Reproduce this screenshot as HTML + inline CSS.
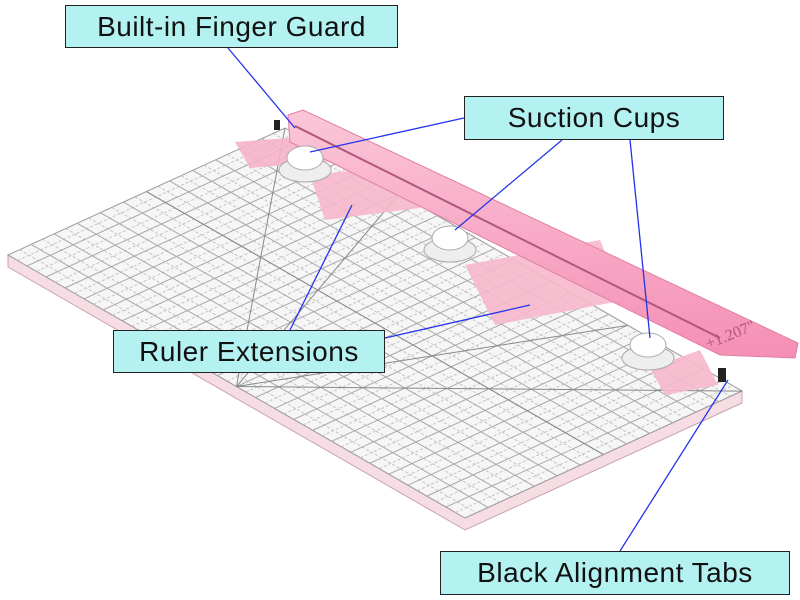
<!DOCTYPE html>
<html><head><meta charset="utf-8"><style>
html,body{margin:0;padding:0;background:#fff;width:800px;height:600px;overflow:hidden}
.lbl{position:absolute;background:#b4f2f2;border:1.5px solid #222;font-family:"Liberation Sans",sans-serif;font-size:28px;color:#111;box-sizing:border-box;display:flex;align-items:center;justify-content:center;letter-spacing:0.5px}
</style></head><body>
<svg width="800" height="600" style="position:absolute;left:0;top:0">
<defs>
<linearGradient id="pk" x1="0" y1="0" x2="0" y2="1"><stop offset="0" stop-color="#fbc6d8"/><stop offset="1" stop-color="#f58fb5"/></linearGradient>
</defs>
<polygon points="8,255 465,518 742,391 742,403 465,530 8,267" fill="#f6dde4" stroke="#c9a3ad" stroke-width="1"/>
<polygon points="8,255 465,518 742,391 285,128" fill="#f6f6f6" stroke="#999" stroke-width="1"/>
<g transform="matrix(19.04,10.96,23.08,-10.58,8,255)" fill="none">
<path vector-effect="non-scaling-stroke" stroke="#c4c4c4" stroke-dasharray="3 2" d="M0.5 0V12M1.5 0V12M2.5 0V12M3.5 0V12M4.5 0V12M5.5 0V12M6.5 0V12M7.5 0V12M8.5 0V12M9.5 0V12M10.5 0V12M11.5 0V12M12.5 0V12M13.5 0V12M14.5 0V12M15.5 0V12M16.5 0V12M17.5 0V12M18.5 0V12M19.5 0V12M20.5 0V12M21.5 0V12M22.5 0V12M23.5 0V12M0 0.5H24M0 1.5H24M0 2.5H24M0 3.5H24M0 4.5H24M0 5.5H24M0 6.5H24M0 7.5H24M0 8.5H24M0 9.5H24M0 10.5H24M0 11.5H24"/>
<path vector-effect="non-scaling-stroke" stroke="#a8a8a8" d="M1 0V12M2 0V12M3 0V12M4 0V12M5 0V12M6 0V12M7 0V12M8 0V12M9 0V12M10 0V12M11 0V12M12 0V12M13 0V12M14 0V12M15 0V12M16 0V12M17 0V12M18 0V12M19 0V12M20 0V12M21 0V12M22 0V12M23 0V12M0 1H24M0 2H24M0 3H24M0 4H24M0 5H24M0 6H24M0 7H24M0 8H24M0 9H24M0 10H24M0 11H24"/>
<path vector-effect="non-scaling-stroke" stroke="#888" d="M0 12L12 0L24 12M6 12L12 0M18 12L12 0M0 6L24 6"/>
</g>
<polygon points="235,142 330,135 345,160 250,168" fill="#f6b3c9" opacity="0.9"/>
<polygon points="310,175 405,165 420,208 325,220" fill="#f7b8cc" opacity="0.9"/>
<polygon points="465,265 600,240 625,300 495,325" fill="#f7b8cc" opacity="0.9"/>
<polygon points="650,368 700,350 718,385 665,395" fill="#f7b8cc" opacity="0.9"/>
<polygon points="288,115 303,110 798,343 795,358 720,355 290,142" fill="url(#pk)" stroke="#e07fa3" stroke-width="1"/>
<line x1="295" y1="126" x2="720" y2="338" stroke="#b0577a" stroke-width="2"/>
<text x="705" y="338" font-family="Liberation Serif,serif" font-size="16" fill="#b0577a" transform="rotate(-22 735 335)">+1.207"</text>
<rect x="274" y="120" width="6" height="10" fill="#222"/>
<rect x="718" y="368" width="8" height="14" fill="#222"/>
<g fill="#fff" stroke="#aaa">
<ellipse cx="305" cy="170" rx="26" ry="12" fill="#eee"/>
<ellipse cx="305" cy="158" rx="18" ry="12"/>
<ellipse cx="450" cy="250" rx="26" ry="12" fill="#eee"/>
<ellipse cx="450" cy="238" rx="18" ry="12"/>
<ellipse cx="648" cy="358" rx="26" ry="12" fill="#eee"/>
<ellipse cx="648" cy="345" rx="18" ry="12"/>
</g>
<g stroke="#2233ee" stroke-width="1.3">
<line x1="228" y1="48" x2="295" y2="128"/>
<line x1="464" y1="118" x2="310" y2="152"/>
<line x1="562" y1="140" x2="455" y2="230"/>
<line x1="630" y1="140" x2="650" y2="338"/>
<line x1="290" y1="330" x2="352" y2="205"/>
<line x1="385" y1="338" x2="530" y2="305"/>
<line x1="620" y1="551" x2="728" y2="380"/>
</g>
</svg>
<div class="lbl" style="left:65px;top:5px;width:333px;height:43px">Built-in Finger Guard</div>
<div class="lbl" style="left:464px;top:96px;width:260px;height:44px">Suction Cups</div>
<div class="lbl" style="left:113px;top:330px;width:272px;height:43px">Ruler Extensions</div>
<div class="lbl" style="left:440px;top:551px;width:350px;height:44px">Black Alignment Tabs</div>
</body></html>
